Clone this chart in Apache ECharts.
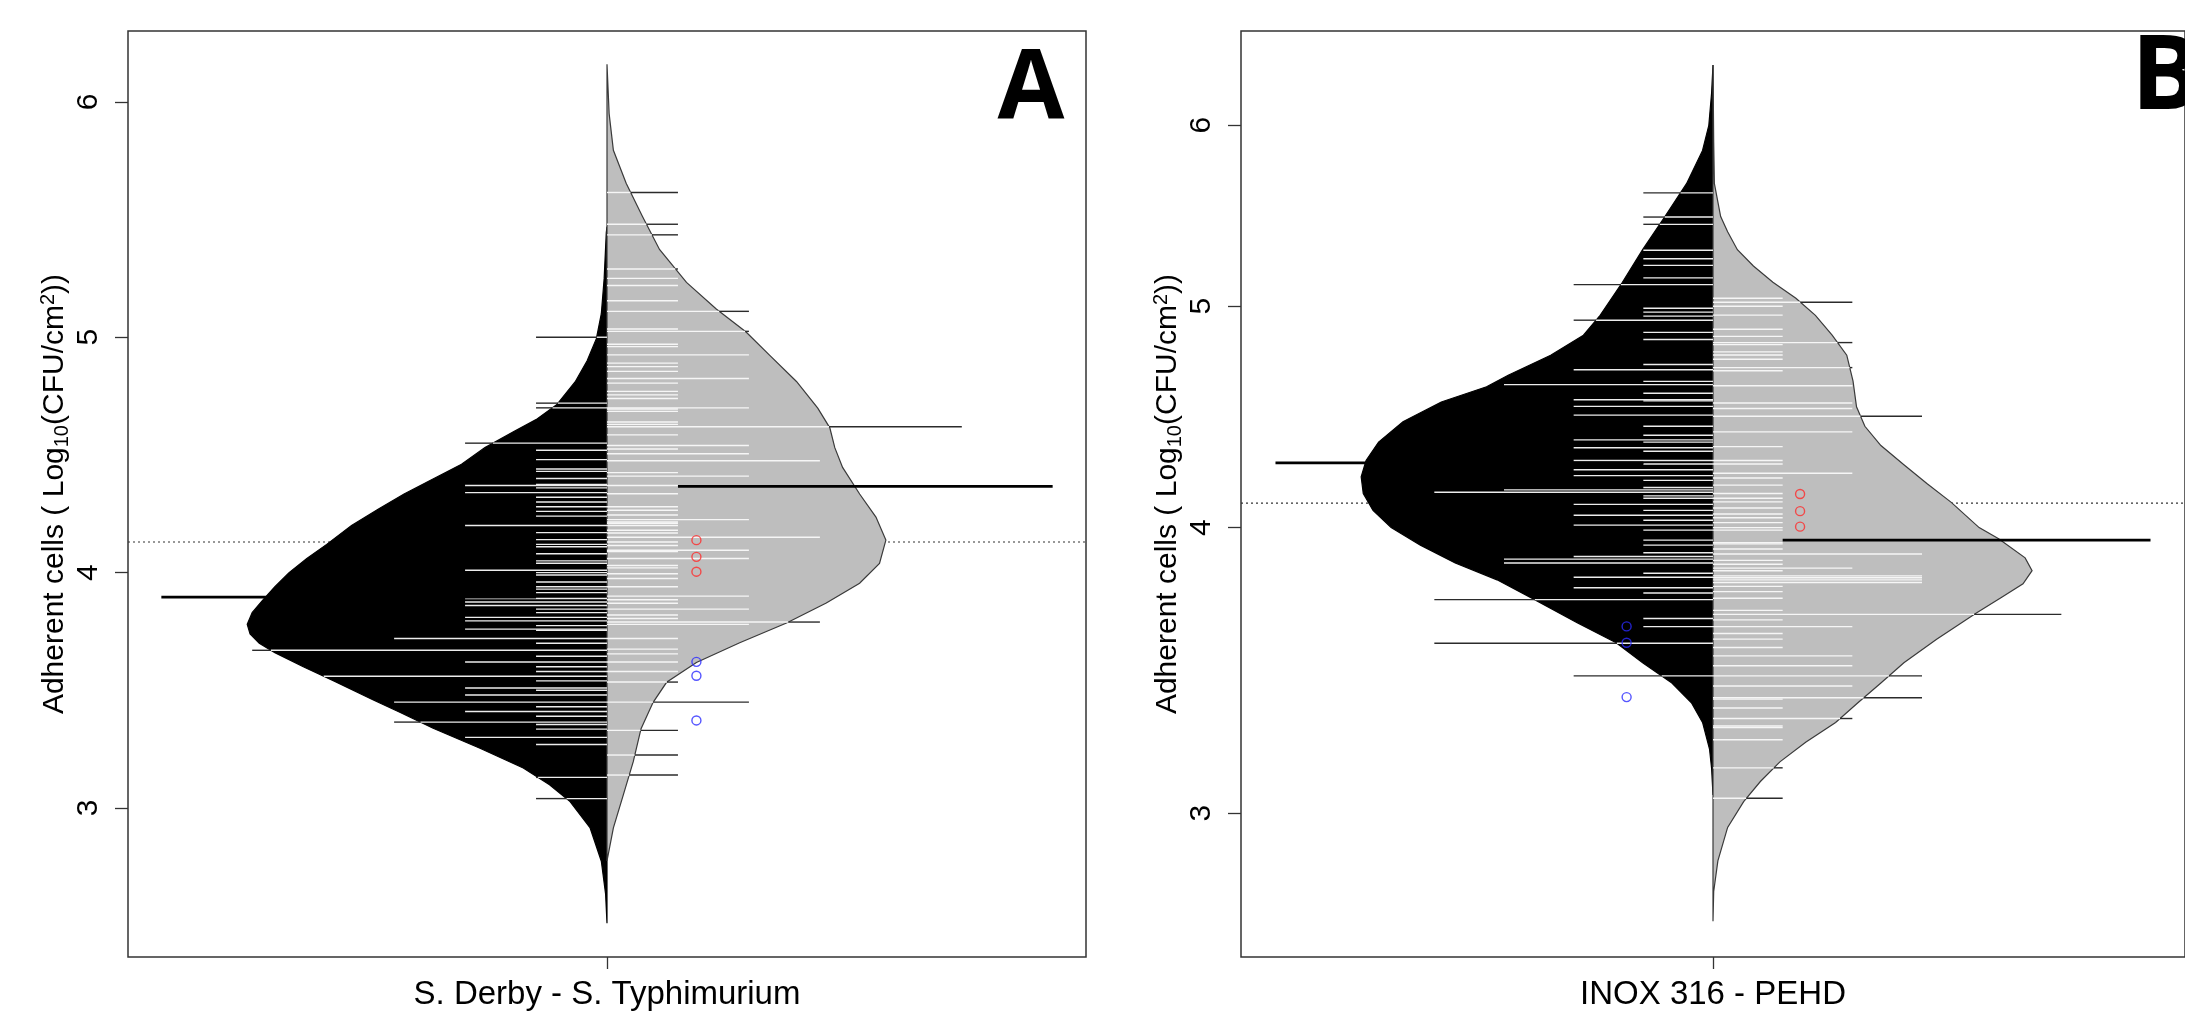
<!DOCTYPE html>
<html>
<head>
<meta charset="utf-8">
<script src="https://cdn.jsdelivr.net/npm/echarts@6/dist/echarts.min.js"></script>
<style>
html, body { margin: 0; padding: 0; background: #fff; }
#main { width: 2185px; height: 1016px; }
</style>
</head>
<body>
<div id="main"></div>
<script>
// ---- data ----
var catNames = ['S. Derby - S. Typhimurium', 'INOX 316 - PEHD'];
var yTicks = [3, 4, 5, 6];
var yTitle = 'Adherent cells ( Log{s|10}(CFU/cm{p|2}))';

// bean outlines: value, half width (in bean-line units)
var aBlackVal = [2.51, 2.635, 2.774, 2.917, 3.027, 3.099, 3.17, 3.254, 3.339, 3.407, 3.46, 3.54, 3.6, 3.66, 3.7, 3.74, 3.78, 3.83, 3.88, 3.94, 4.0, 4.06, 4.12, 4.2, 4.27, 4.334, 4.39, 4.46, 4.531, 4.602, 4.65, 4.713, 4.81, 4.9, 4.994, 5.1, 5.25, 5.445, 5.47];
var aBlackW   = [0, 0.02, 0.08, 0.24, 0.52, 0.81, 1.18, 1.79, 2.45, 2.92, 3.3, 3.85, 4.28, 4.68, 4.9, 5.03, 5.07, 5.0, 4.86, 4.68, 4.48, 4.23, 3.95, 3.6, 3.22, 2.86, 2.5, 2.05, 1.72, 1.3, 1.0, 0.71, 0.45, 0.28, 0.15, 0.08, 0.04, 0.01, 0];
var aGreyVal  = [2.775, 2.916, 3.056, 3.197, 3.337, 3.449, 3.534, 3.618, 3.702, 3.786, 3.871, 3.955, 4.039, 4.138, 4.236, 4.334, 4.447, 4.531, 4.615, 4.699, 4.812, 4.924, 5.022, 5.12, 5.233, 5.373, 5.513, 5.654, 5.794, 5.95, 6.16];
var aGreyW    = [0, 0.09, 0.23, 0.37, 0.48, 0.65, 0.84, 1.26, 1.87, 2.53, 3.09, 3.56, 3.84, 3.93, 3.79, 3.56, 3.32, 3.21, 3.14, 2.97, 2.67, 2.29, 1.96, 1.54, 1.12, 0.74, 0.5, 0.27, 0.09, 0.03, 0];
var bBlackVal = [3.055, 3.138, 3.2, 3.287, 3.353, 3.42, 3.491, 3.562, 3.634, 3.72, 3.795, 3.86, 3.93, 4.0, 4.07, 4.14, 4.21, 4.28, 4.36, 4.45, 4.54, 4.61, 4.664, 4.759, 4.856, 4.954, 5.122, 5.293, 5.473, 5.657, 5.85, 6.0, 6.2, 6.375];
var bBlackW   = [0, 0.02, 0.05, 0.15, 0.31, 0.59, 1.01, 1.39, 1.95, 2.56, 3.1, 3.7, 4.2, 4.62, 4.88, 5.02, 5.05, 4.98, 4.8, 4.45, 3.9, 3.25, 2.94, 2.33, 1.86, 1.62, 1.3, 1.01, 0.69, 0.38, 0.15, 0.06, 0.02, 0];
var bGreyVal  = [2.69, 2.772, 2.859, 2.957, 3.035, 3.097, 3.159, 3.222, 3.287, 3.353, 3.42, 3.491, 3.574, 3.67, 3.73, 3.78, 3.83, 3.88, 3.955, 4.0, 4.103, 4.182, 4.262, 4.345, 4.43, 4.518, 4.636, 4.759, 4.856, 4.954, 5.04, 5.122, 5.207, 5.293, 5.39, 5.473, 5.657, 5.9, 6.375];
var bGreyW    = [0, 0.01, 0.07, 0.21, 0.44, 0.68, 0.96, 1.33, 1.76, 2.08, 2.41, 2.74, 3.21, 3.78, 4.15, 4.45, 4.58, 4.48, 4.1, 3.82, 3.42, 3.07, 2.74, 2.41, 2.18, 2.06, 2.01, 1.92, 1.71, 1.47, 1.19, 0.86, 0.58, 0.35, 0.21, 0.11, 0.02, 0.01, 0];

// bean lines: value, number of overlapping observations
var aBlackLines = [[5.0,1],[4.72,1],[4.70,1],[4.55,2],[4.52,1],[4.48,1],[4.44,1],[4.43,1],[4.40,1],[4.375,1],[4.37,2],[4.36,1],[4.34,2],[4.32,1],[4.30,1],[4.28,1],[4.26,1],[4.24,1],[4.20,2],[4.17,1],[4.14,1],[4.12,1],[4.11,1],[4.08,1],[4.05,1],[4.04,1],[4.01,2],[4.0,1],[3.99,1],[3.96,1],[3.94,1],[3.93,1],[3.915,1],[3.89,2],[3.875,2],[3.86,2],[3.845,1],[3.83,1],[3.81,2],[3.795,2],[3.775,1],[3.76,2],[3.755,1],[3.72,3],[3.70,1],[3.67,5],[3.645,1],[3.62,2],[3.60,1],[3.58,1],[3.56,4],[3.54,1],[3.51,2],[3.50,1],[3.48,2],[3.45,3],[3.43,1],[3.41,2],[3.39,1],[3.365,3],[3.355,1],[3.335,1],[3.30,2],[3.27,1],[3.13,1],[3.04,1]];
var aGreyLines = [[5.615,1],[5.48,1],[5.435,1],[5.29,1],[5.25,1],[5.22,1],[5.155,1],[5.11,2],[5.035,1],[5.025,2],[4.97,1],[4.96,1],[4.925,2],[4.89,1],[4.875,1],[4.855,1],[4.825,2],[4.805,1],[4.77,1],[4.755,1],[4.74,1],[4.70,2],[4.695,1],[4.685,1],[4.64,1],[4.63,1],[4.62,5],[4.585,1],[4.54,2],[4.525,1],[4.505,2],[4.475,3],[4.425,1],[4.41,2],[4.37,1],[4.335,1],[4.28,1],[4.265,1],[4.245,1],[4.225,2],[4.215,1],[4.21,1],[4.20,1],[4.18,1],[4.168,1],[4.15,3],[4.13,1],[4.115,1],[4.095,2],[4.09,1],[4.06,2],[4.03,1],[4.02,1],[3.995,1],[3.975,1],[3.94,1],[3.90,2],[3.885,1],[3.87,1],[3.845,2],[3.82,1],[3.805,1],[3.79,3],[3.78,2],[3.72,1],[3.675,1],[3.655,1],[3.62,1],[3.58,1],[3.535,1],[3.45,2],[3.33,1],[3.225,1],[3.14,1]];
var bBlackLines = [[5.605,1],[5.47,1],[5.43,1],[5.29,1],[5.245,1],[5.21,1],[5.145,1],[5.11,2],[4.99,1],[4.97,1],[4.95,1],[4.93,2],[4.87,1],[4.835,1],[4.715,1],[4.69,2],[4.635,1],[4.62,3],[4.58,1],[4.55,2],[4.545,1],[4.52,2],[4.48,2],[4.43,1],[4.39,1],[4.37,2],[4.36,1],[4.335,2],[4.32,1],[4.28,2],[4.265,1],[4.24,2],[4.215,2],[4.195,1],[4.165,1],[4.155,3],[4.145,4],[4.13,1],[4.12,1],[4.095,2],[4.07,1],[4.05,2],[4.03,1],[4.01,2],[3.99,1],[3.95,1],[3.93,1],[3.90,1],[3.885,2],[3.875,3],[3.86,3],[3.82,1],[3.805,2],[3.765,2],[3.745,1],[3.72,4],[3.65,1],[3.62,1],[3.56,4],[3.445,2]];
var bGreyLines = [[5.04,1],[5.02,2],[5.0,1],[4.955,1],[4.885,1],[4.85,1],[4.82,2],[4.81,1],[4.775,1],[4.76,1],[4.74,1],[4.70,2],[4.685,1],[4.615,2],[4.535,2],[4.51,2],[4.475,3],[4.405,2],[4.34,1],[4.28,1],[4.265,1],[4.225,2],[4.205,1],[4.175,1],[4.14,1],[4.12,1],[4.105,1],[4.08,1],[4.055,1],[4.04,1],[4.02,1],[4.0,1],[3.99,1],[3.94,1],[3.935,1],[3.915,1],[3.895,3],[3.87,1],[3.855,1],[3.84,2],[3.83,1],[3.81,3],[3.803,3],[3.795,3],[3.785,3],[3.77,1],[3.75,1],[3.725,1],[3.68,1],[3.665,5],[3.645,1],[3.62,2],[3.595,1],[3.575,1],[3.545,1],[3.515,2],[3.48,2],[3.445,3],[3.41,2],[3.37,3],[3.365,1],[3.335,1],[3.30,2],[3.275,1],[3.27,1],[3.23,1],[3.14,1],[3.045,1]];

// bean averages (black, grey) and overall average
var aMeans = [3.896, 4.366];
var bMeans = [4.27, 3.95];
var aOverall = 4.13;
var bOverall = 4.1;

// extra points
var redPts = [4.138, 4.067, 4.004];
var bluePts = [3.621, 3.562, 3.372];

// --------------------------------------------------------------------
function widthAt(vals, ws, v) {
    if (v <= vals[0] || v >= vals[vals.length - 1]) return 0;
    for (var i = 1; i < vals.length; i++) {
        if (v <= vals[i]) {
            var t = (v - vals[i - 1]) / (vals[i] - vals[i - 1]);
            return ws[i - 1] + t * (ws[i] - ws[i - 1]);
        }
    }
    return 0;
}

function beanShape(vals, ws, side, fill, stroke) {
    return function (params, api) {
        var pts = [];
        for (var i = 0; i < vals.length; i++) {
            pts.push(api.coord([side * ws[i], vals[i]]));
        }
        return {
            type: 'polygon',
            shape: {points: pts},
            style: {fill: fill, stroke: stroke, lineWidth: 1.2}
        };
    };
}

function beanLines(vals, ws, side, inCol) {
    return function (params, api) {
        var len = api.value(0), v = api.value(1);
        var w = widthAt(vals, ws, v);
        var kids = [];
        var inEnd = Math.min(len, w);
        if (inEnd > 0) {
            var a = api.coord([0, v]), b = api.coord([side * inEnd, v]);
            kids.push({type: 'line', shape: {x1: a[0], y1: a[1], x2: b[0], y2: b[1]},
                style: {stroke: inCol, lineWidth: 1.4}});
        }
        if (len > w) {
            var c = api.coord([side * w, v]), d = api.coord([side * len, v]);
            kids.push({type: 'line', shape: {x1: c[0], y1: c[1], x2: d[0], y2: d[1]},
                style: {stroke: '#2b2b2b', lineWidth: 1.4}});
        }
        return {type: 'group', children: kids};
    };
}

var panels = [
    {left: 128, width: 958, xMax: 6.75, yType: 'value', yMin: 2.367, yMax: 6.301,
     blackV: aBlackVal, blackW: aBlackW, greyV: aGreyVal, greyW: aGreyW,
     blackLines: aBlackLines, greyLines: aGreyLines, means: aMeans, overall: aOverall,
     redX: 1.26, blueX: 1.26},
    {left: 1241, width: 962, xMax: 6.775, yType: 'log', yMin: 2.595, yMax: 6.598,
     blackV: bBlackVal, blackW: bBlackW, greyV: bGreyVal, greyW: bGreyW,
     blackLines: bBlackLines, greyLines: bGreyLines, means: bMeans, overall: bOverall,
     redX: 1.25, blueX: -1.24}
];

var font = '"Liberation Sans", Arial, sans-serif';
var grids = [], xAxes = [], yAxes = [], series = [];

panels.forEach(function (p, k) {
    grids.push({left: p.left, top: 31, width: p.width, height: 934, show: true,
        borderColor: '#333', borderWidth: 1.5, backgroundColor: 'transparent'});
    xAxes.push({
        gridIndex: k, type: 'value', min: -p.xMax, max: p.xMax,
        axisLine: {show: false, onZero: false}, splitLine: {show: false},
        axisLabel: {show: false},
        axisTick: {show: true, customValues: [0], length: 12, lineStyle: {color: '#333', width: 1.3}},
        name: catNames[k], nameLocation: 'middle', nameGap: 21,
        nameTextStyle: {fontFamily: font, fontSize: 33, color: '#000', verticalAlign: 'top'}
    });
    var ya = {
        gridIndex: k, type: p.yType, min: p.yMin, max: p.yMax,
        axisLine: {show: false, onZero: false}, splitLine: {show: false},
        axisTick: {show: true, customValues: yTicks, length: 13, lineStyle: {color: '#333', width: 1.3}},
        axisLabel: {show: true, customValues: yTicks, rotate: 90, margin: 24,
            fontFamily: font, fontSize: 30, color: '#000',
            formatter: function (v) { return String(Math.round(v)); }},
        name: yTitle, nameLocation: 'middle', nameRotate: 90, nameGap: 56,
        nameTextStyle: {fontFamily: font, fontSize: 30, color: '#000', lineHeight: 34,
            rich: {
                s: {fontFamily: font, fontSize: 20, lineHeight: 20, verticalAlign: 'bottom', color: '#000'},
                p: {fontFamily: font, fontSize: 20, lineHeight: 20, verticalAlign: 'top', color: '#000'}
            }}
    };
    if (p.yType === 'log') ya.logBase = 10;
    yAxes.push(ya);

    // overall average (dotted, behind the beans)
    series.push({
        type: 'custom', xAxisIndex: k, yAxisIndex: k, z: 1, silent: true,
        data: [[0, p.overall]],
        renderItem: function (params, api) {
            var v = api.value(1);
            var a = api.coord([-p.xMax, v]), b = api.coord([p.xMax, v]);
            return {type: 'line', shape: {x1: a[0], y1: a[1], x2: b[0], y2: b[1]},
                style: {stroke: '#333', lineWidth: 1.2, lineDash: [2, 3]}};
        }
    });
    // bean bodies
    series.push({
        type: 'custom', xAxisIndex: k, yAxisIndex: k, z: 2, silent: true,
        data: [[0, p.blackV[0]]],
        renderItem: beanShape(p.blackV, p.blackW, -1, '#000', '#000')
    });
    series.push({
        type: 'custom', xAxisIndex: k, yAxisIndex: k, z: 2, silent: true,
        data: [[0, p.greyV[0]]],
        renderItem: beanShape(p.greyV, p.greyW, 1, '#bebebe', '#3a3a3a')
    });
    // bean lines
    series.push({
        type: 'custom', xAxisIndex: k, yAxisIndex: k, z: 3, silent: true,
        data: p.blackLines.map(function (d) { return [d[1], d[0]]; }),
        renderItem: beanLines(p.blackV, p.blackW, -1, '#ececec')
    });
    series.push({
        type: 'custom', xAxisIndex: k, yAxisIndex: k, z: 3, silent: true,
        data: p.greyLines.map(function (d) { return [d[1], d[0]]; }),
        renderItem: beanLines(p.greyV, p.greyW, 1, '#f6f6f6')
    });
    // bean averages
    series.push({
        type: 'custom', xAxisIndex: k, yAxisIndex: k, z: 4, silent: true,
        data: [[-1, p.means[0]], [1, p.means[1]]],
        renderItem: function (params, api) {
            var side = api.value(0), v = api.value(1);
            var a = api.coord([side * 1, v]), b = api.coord([side * 6.28, v]);
            return {type: 'line', shape: {x1: a[0], y1: a[1], x2: b[0], y2: b[1]},
                style: {stroke: '#000', lineWidth: 2.8}};
        }
    });
    // points
    series.push({
        type: 'scatter', xAxisIndex: k, yAxisIndex: k, z: 5, silent: true,
        symbol: 'circle', symbolSize: 9,
        itemStyle: {color: 'rgba(0,0,0,0)', borderColor: '#ff2a2a', borderWidth: 1.4},
        data: redPts.map(function (v) { return [p.redX, v]; })
    });
    series.push({
        type: 'scatter', xAxisIndex: k, yAxisIndex: k, z: 5, silent: true,
        symbol: 'circle', symbolSize: 9,
        itemStyle: {color: 'rgba(0,0,0,0)', borderColor: '#2a2aff', borderWidth: 1.4},
        data: bluePts.map(function (v) { return [p.blueX, v]; })
    });
});

var chart = echarts.init(document.getElementById('main'));
chart.setOption({
    animation: false,
    backgroundColor: '#fff',
    grid: grids,
    xAxis: xAxes,
    yAxis: yAxes,
    series: series,
    graphic: [
        {type: 'text', x: 1031, y: 91, z: 100,
         style: {text: 'A', font: 'bold 97px "Open Sans", sans-serif', fill: '#000',
             align: 'center', verticalAlign: 'middle', textAlign: 'center', textVerticalAlign: 'middle'}},
        {type: 'text', x: 2166, y: 79, z: 100,
         style: {text: 'B', font: 'bold 104px "Open Sans", sans-serif', fill: '#000',
             align: 'center', verticalAlign: 'middle', textAlign: 'center', textVerticalAlign: 'middle'}}
    ]
});
</script>
</body>
</html>
